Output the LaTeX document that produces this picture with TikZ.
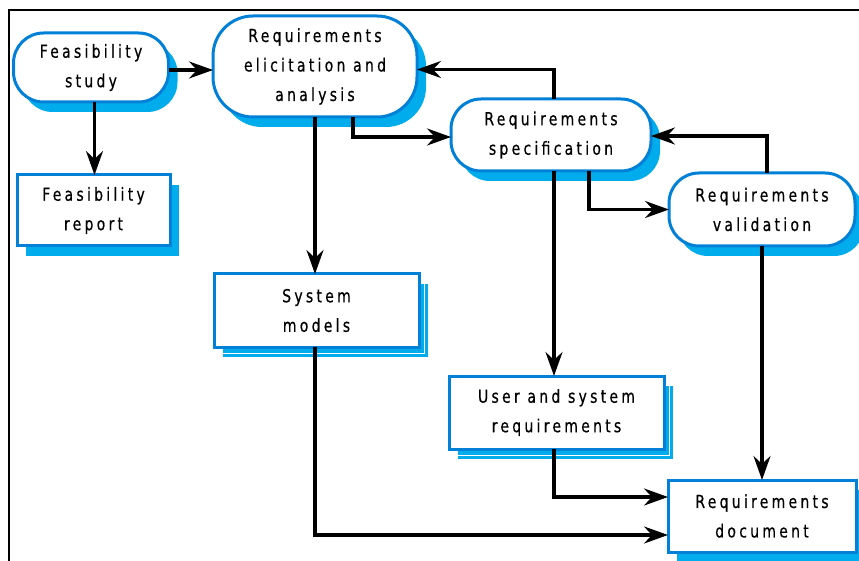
\documentclass[tikz,border=0pt]{standalone}
\usepackage{fontspec}
\setmainfont{DejaVu Sans}[FakeStretch=0.78, LetterSpace=18, FakeBold=0.5]
\usetikzlibrary{arrows.meta,shadows}

\definecolor{edgeblue}{RGB}{0,128,214}
\definecolor{shadeblue}{RGB}{0,172,236}

\tikzset{
  every node/.style={inner sep=0pt, outer sep=0pt, align=center,
    font=\fontsize{18}{29.5}\selectfont},
  shade/.style={general shadow={fill=shadeblue, shadow xshift=9pt, shadow yshift=-10pt}},
  shadeline/.style={general shadow={fill=shadeblue, shadow xshift=9pt, shadow yshift=-10pt},
    general shadow={draw=white, line width=0.9pt, shadow xshift=5.5pt, shadow yshift=-6.5pt}},
  activity/.style={draw=edgeblue, line width=3pt, fill=white, rounded corners=30pt, shade},
  product/.style={draw=edgeblue, line width=3pt, fill=white},
  flow/.style={line width=3.2pt, -{Stealth[length=24pt, width=17pt, inset=8pt]}},
}

\begin{document}
\begin{tikzpicture}[x=1pt, y=-1pt]
  \useasboundingbox (0,0) rectangle (859,561);

  % frame
  \draw[line width=2.4pt] (9,561) -- (9,10) -- (859,10);

  % process activities
  \node[activity, minimum width=155pt, minimum height=69pt] (fs) at (91,67.5)
    {Feasibility\\study};
  \node[activity, minimum width=204pt, minimum height=101pt, rounded corners=40pt] (elic) at (315,66.5)
    {Requirements\\elicitation and\\analysis};
  \node[activity, minimum width=200pt, minimum height=72pt] (spec) at (551,135)
    {Requirements\\specification};
  \node[activity, minimum width=186pt, minimum height=73pt] (val) at (762,209.5)
    {Requirements\\validation};

  % products
  \node[product, shade, minimum width=153pt, minimum height=71pt] (rep) at (93.5,210.5)
    {Feasibility\\report};
  \node[product, shadeline, minimum width=205pt, minimum height=73pt] (sm) at (316.5,310.5)
    {System\\models};
  \node[product, shadeline, minimum width=215pt, minimum height=73pt] (usr) at (556.5,412.5)
    {User and system\\requirements};
  \node[product, shade, minimum width=188pt, minimum height=72pt] (doc) at (762,516)
    {Requirements\\document};

  % flows
  \draw[flow] ([yshift=-2.5pt]fs.east) -- ([yshift=-2.5pt]fs.east -| elic.west);
  \draw[flow] ([xshift=3.5pt]fs.south) -- ([xshift=3.5pt]fs.south |- rep.north);
  \draw[flow] (elic.south) -- (elic.south |- sm.north);
  \draw[flow] ([xshift=38pt]elic.south) |- ([yshift=-2pt]spec.west);
  \draw[flow] ([xshift=3pt]spec.north) |- ([yshift=-3pt]elic.east);
  \draw[flow] ([xshift=38pt]spec.south) |- (val.west);
  \draw[flow] ([xshift=5pt]val.north) |- ([yshift=-1pt]spec.east);
  \draw[flow] ([xshift=3pt]spec.south) -- ([xshift=3pt]spec.south |- usr.north);
  \draw[flow] (val.south) -- (val.south |- doc.north);
  \draw[flow] ([xshift=-2.5pt]usr.south) |- ([yshift=19pt]doc.west);
  \draw[flow] ([xshift=-1.5pt]sm.south) |- ([yshift=-19pt]doc.west);
\end{tikzpicture}
\end{document}
